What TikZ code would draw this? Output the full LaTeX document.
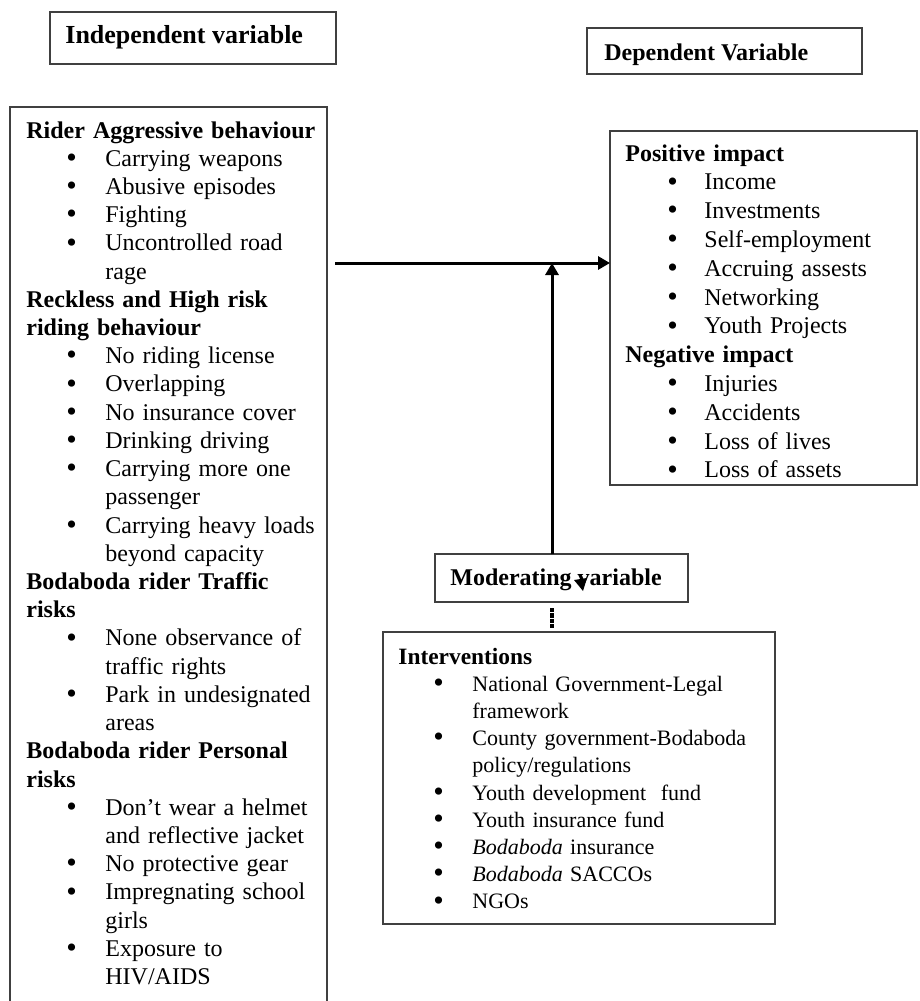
\documentclass[tikz,border=0pt]{standalone}
\usepackage{fontspec}
\setmainfont{Liberation Serif}
\usetikzlibrary{arrows.meta}

\newlength{\bulx}
\newlength{\gapx}
\newcommand{\itm}{\hspace*{\bulx}\makebox[\gapx][l]{\raisebox{-0.6pt}{\fontsize{15}{15}\selectfont\textbullet}}}
\newcommand{\cnt}{\hspace*{\bulx}\hspace*{\gapx}}

\begin{document}
\begin{tikzpicture}[x=0.5pt, y=-0.5pt,
    box/.style={draw=black!75, line width=0.7pt, anchor=north west,
      inner sep=0pt, outer sep=0pt},
    boxtext/.style={anchor=base west, inner sep=0pt, text width=190pt,
      align=left},
    flow/.style={line width=1.5pt, -{Triangle[length=6pt,width=6.5pt]}}]
  \useasboundingbox (0,0) rectangle (920,1001);
  %boxes
  \node[box, minimum width=143pt, minimum height=26pt] (indep) at (50,12) {};
  \node[box, minimum width=137.5pt, minimum height=23pt] (dep) at (587,28) {};
  \node[box, minimum width=158.5pt, minimum height=450pt] (causes) at (10,107) {};
  \node[box, minimum width=153.5pt, minimum height=177pt] (effects) at (610,131) {};
  \node[box, minimum width=126.5pt, minimum height=24pt] (moder) at (435,554) {};
  \node[box, minimum width=196pt, minimum height=146pt] (interv) at (383,632) {};
  %titles
  \node[anchor=base west, inner sep=0pt, font=\fontsize{13}{15}\selectfont\bfseries]
    (indeptxt) at (65,43) {Independent variable};
  \node[anchor=base west, inner sep=0pt, font=\fontsize{12}{14}\selectfont\bfseries]
    (deptxt) at (604,60) {Dependent Variable};
  \node[anchor=base west, inner sep=0pt, font=\fontsize{12}{14}\selectfont\bfseries]
    (modertxt) at (450,585) {Moderating variable};
  %independent variable
  \node[boxtext, font=\fontsize{12}{14.11}\selectfont,
    execute at begin node={\setlength{\bulx}{20pt}\setlength{\gapx}{19.5pt}}]
    (causestxt) at (26,138) {%
    \textbf{Rider Aggressive behaviour}\\
    \itm Carrying weapons\\
    \itm Abusive episodes\\
    \itm Fighting\\
    \itm Uncontrolled road\\
    \cnt rage\\
    \textbf{Reckless and High risk}\\
    \textbf{riding behaviour}\\
    \itm No riding license\\
    \itm Overlapping\\
    \itm No insurance cover\\
    \itm Drinking driving\\
    \itm Carrying more one\\
    \cnt passenger\\
    \itm Carrying heavy loads\\
    \cnt beyond capacity\\
    \textbf{Bodaboda rider Traffic}\\
    \textbf{risks}\\
    \itm None observance of\\
    \cnt traffic rights\\
    \itm Park in undesignated\\
    \cnt areas\\
    \textbf{Bodaboda rider Personal}\\
    \textbf{risks}\\
    \itm Don’t wear a helmet\\
    \cnt and reflective jacket\\
    \itm No protective gear\\
    \itm Impregnating school\\
    \cnt girls\\
    \itm Exposure to\\
    \cnt HIV/AIDS};
  %dependent variable
  \node[boxtext, font=\fontsize{12}{14.4}\selectfont,
    execute at begin node={\setlength{\bulx}{21pt}\setlength{\gapx}{18.5pt}}]
    (effectstxt) at (625,161) {%
    \textbf{Positive impact}\\
    \itm Income\\
    \itm Investments\\
    \itm Self-employment\\
    \itm Accruing assests\\
    \itm Networking\\
    \itm Youth Projects\\
    \textbf{Negative impact}\\
    \itm Injuries\\
    \itm Accidents\\
    \itm Loss of lives\\
    \itm Loss of assets};
  %moderating variable
  \node[boxtext, font=\fontsize{11}{13.6}\selectfont,
    execute at begin node={\setlength{\bulx}{17.5pt}\setlength{\gapx}{19.5pt}}]
    (intervtxt) at (398,664) {%
    {\fontsize{11.7}{13.6}\selectfont\bfseries Interventions}\\
    \itm National Government-Legal\\
    \cnt framework\\
    \itm County government-Bodaboda\\
    \cnt policy/regulations\\
    \itm Youth development\ \ fund\\
    \itm Youth insurance fund\\
    \itm \textit{Bodaboda} insurance\\
    \itm \textit{Bodaboda} SACCOs\\
    \itm NGOs};
  %arrows
  \coordinate (start) at (335,263);
  \coordinate (join) at (552,263);
  \draw[flow] (start) -- (start -| effects.west);
  \draw[flow] (moder.north -| join) -- (join);
  \draw[line width=1.6pt, dash pattern=on 2.2pt off 0.5pt]
    ([yshift=-3pt]moder.south -| join) -- ([yshift=2pt]interv.north -| join);
  \fill (574,580) -- (587,578) -- (583,591) -- cycle;
\end{tikzpicture}
\end{document}
